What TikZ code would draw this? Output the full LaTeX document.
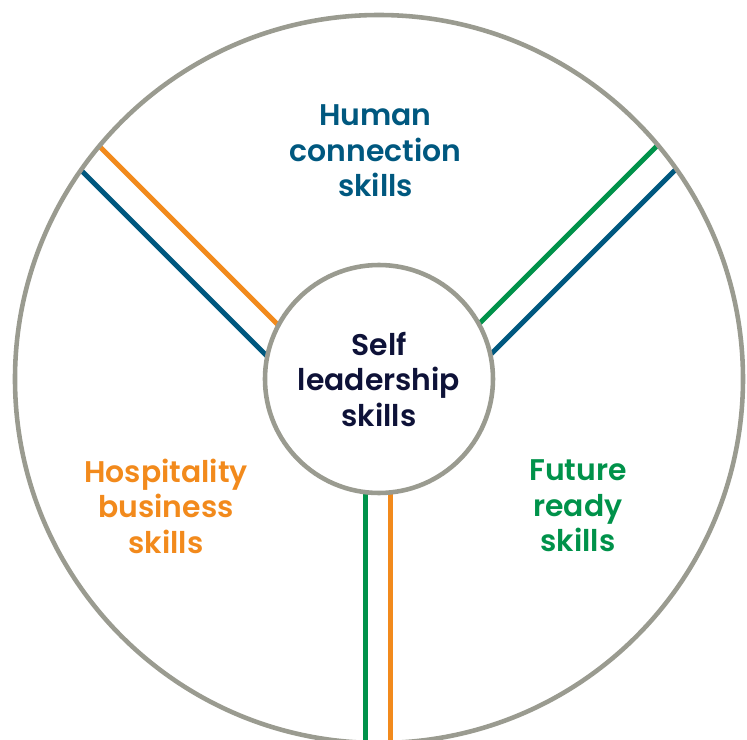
\documentclass[tikz,border=0pt]{standalone}
\usepackage{fontspec}
\setmainfont{Poppins}[BoldFont={Poppins SemiBold}]
\usepackage{tikz}

\definecolor{ringgrey}{HTML}{9A9B90}
\definecolor{skillblue}{HTML}{00587F}
\definecolor{skillorange}{HTML}{F28A1C}
\definecolor{skillgreen}{HTML}{00924A}
\definecolor{selfnavy}{HTML}{0E1238}

\tikzset{
    ring/.style={draw=ringgrey, line width=2.6pt},
    spoke/.style={line width=2.8pt},
    skill/.style={align=center, font=\fontsize{17}{20.2}\selectfont\bfseries},
}

\begin{document}
\begin{tikzpicture}
    \useasboundingbox (-7.58,-7.22) rectangle (7.36,7.58);

    % spokes start from a fork below the hub
    \coordinate (fork) at (-0.02,-1.34);
    \begin{scope}
        \clip (0,0) circle (7.28);
        \draw[spoke, skillorange] ([shift={(45:0.3)}]fork) -- ++(135:12);
        \draw[spoke, skillblue] ([shift={(-135:0.3)}]fork) -- ++(135:12);
        \draw[spoke, skillgreen] ([shift={(135:0.3)}]fork) -- ++(45:12);
        \draw[spoke, skillblue] ([shift={(-45:0.3)}]fork) -- ++(45:12);
        \draw[spoke, skillgreen] ([shift={(180:0.255)}]fork) -- ++(270:12);
        \draw[spoke, skillorange] ([shift={(0:0.255)}]fork) -- ++(270:12);
    \end{scope}

    \node[ring, circle, minimum size=14.56cm] (rim) at (0,0) {};
    \node[ring, circle, fill=white, minimum size=4.56cm, skill, text=selfnavy] (hub) at (0,0) {Self\\leadership\\skills};

    \node[skill, text=skillblue] (human) at (-0.07,4.56) {Human\\connection\\skills};
    \node[skill, text=skillorange] (hospitality) at (-4.26,-2.54) {Hospitality\\business\\skills};
    \node[skill, text=skillgreen] (future) at (3.98,-2.54) {Future\\ready\\skills};
\end{tikzpicture}
\end{document}
